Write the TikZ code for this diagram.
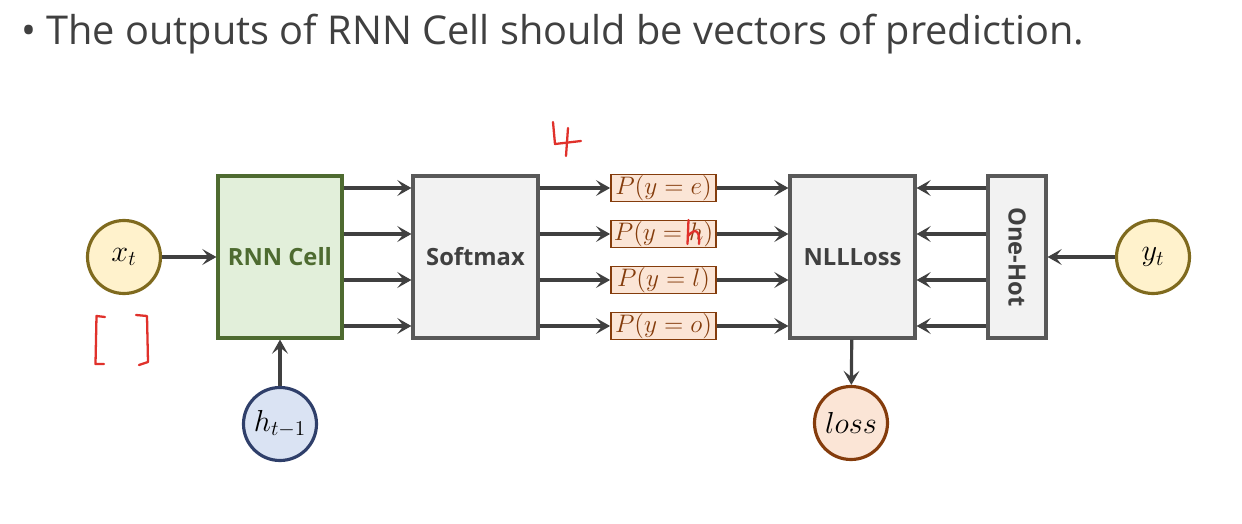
\documentclass[tikz,border=0pt]{standalone}
\usepackage{fontspec}
\setsansfont{Open Sans}
\usepackage{tikz}
\usetikzlibrary{arrows.meta, positioning, calc}

\definecolor{arrgray}{HTML}{404040}
\definecolor{yfill}{HTML}{FFF2CC}
\definecolor{ydraw}{HTML}{7F6A1E}
\definecolor{gfill}{HTML}{E2EFDA}
\definecolor{gdraw}{HTML}{4E6B30}
\definecolor{bfill}{HTML}{DAE3F3}
\definecolor{bdraw}{HTML}{2F3F6A}
\definecolor{ofill}{HTML}{FBE5D6}
\definecolor{odraw}{HTML}{843C0C}
\definecolor{boxgray}{HTML}{F2F2F2}
\definecolor{boxdraw}{HTML}{595959}
\definecolor{inkred}{HTML}{E0312B}

\begin{document}
\begin{tikzpicture}[
    blk/.style={rectangle, draw=boxdraw, fill=boxgray, line width=1.8pt, minimum width=2.5cm, minimum height=3.24cm, align=center, font=\sffamily\bfseries\fontsize{13.5}{15}\selectfont, text=arrgray},
    var/.style={circle, line width=1.8pt, minimum size=1.46cm, inner sep=0pt, font=\fontsize{17}{19}\selectfont},
    prob/.style={rectangle, draw=odraw, fill=ofill, line width=1pt, minimum width=2.1cm, minimum height=0.52cm, inner sep=0.5pt, text=odraw, font=\fontsize{15.5}{17}\selectfont},
    arr/.style={-{Stealth[length=8pt, width=9pt, inset=3.5pt]}, line width=1.8pt, arrgray},
    ink/.style={inkred, line width=1.3pt, line cap=round, line join=round},
]
    \useasboundingbox (0,0) rectangle (24.84,-10.48);

    % title line
    \node[anchor=west, text=arrgray, font=\sffamily\fontsize{22.6}{26}\selectfont, inner sep=0pt] (title) at (0.42,-0.68) {\textbullet\ The outputs of RNN Cell should be vectors of prediction.};

    % inputs and cell
    \node[var, fill=yfill, draw=ydraw] (xt) at (2.48,-5.14) {$x_t$};
    \node[blk, fill=gfill, draw=gdraw, text=gdraw, minimum width=2.48cm] (rnn) at (5.6,-5.14) {RNN Cell};
    \node[var, fill=bfill, draw=bdraw] (hprev) at (5.6,-8.48) {$h_{t-1}$};

    % softmax and the four probabilities
    \node[blk] (soft) at (9.51,-5.14) {Softmax};
    \node[prob] (pe) at (13.27,-3.76) {$P(y=e)$};
    \node[prob] (ph) at (13.27,-4.68) {$P(y=h)$};
    \node[prob] (pl) at (13.27,-5.60) {$P(y=l)$};
    \node[prob] (po) at (13.27,-6.52) {$P(y=o)$};

    % loss side
    \node[blk] (nll) at (17.05,-5.14) {NLLLoss};
    \node[blk, minimum width=1.16cm] (onehot) at (20.34,-5.14) {};
    \node[rotate=-90, text=arrgray, font=\sffamily\bfseries\fontsize{13.5}{15}\selectfont] (ohtext) at (onehot.center) {One-Hot};
    \node[var, fill=yfill, draw=ydraw] (yt) at (23.06,-5.14) {$y_t$};
    \node[var, fill=ofill, draw=odraw] (loss) at (17.02,-8.46) {$loss$};

    % connectors
    \draw[arr] (xt) -- (rnn);
    \draw[arr] (hprev) -- (rnn);
    \foreach \p in {pe,ph,pl,po} {
        \draw[arr] (rnn.east |- \p) -- (soft.west |- \p);
        \draw[arr] (soft.east |- \p) -- (\p);
        \draw[arr] (\p) -- (nll.west |- \p);
        \draw[arr] (onehot.west |- \p) -- (nll.east |- \p);
    }
    \draw[arr] (yt) -- (onehot);
    \draw[arr] (nll) -- (loss);

    % red handwriting
    \draw[ink] (11.06,-2.44) -- (11.1,-2.88) -- (11.62,-2.82);
    \draw[ink] (11.36,-2.56) -- (11.32,-3.12);
    \draw[ink] (2.1,-6.34) -- (1.93,-6.32) -- (1.91,-7.28) -- (2.08,-7.28);
    \draw[ink] (2.72,-6.3) -- (2.94,-6.32) -- (2.96,-7.24) -- (2.78,-7.3);
    \draw[ink] (13.77,-4.4) -- (13.75,-4.88) (13.76,-4.72) .. controls (13.95,-4.5) and (14.0,-4.7) .. (13.98,-4.88);
\end{tikzpicture}
\end{document}
